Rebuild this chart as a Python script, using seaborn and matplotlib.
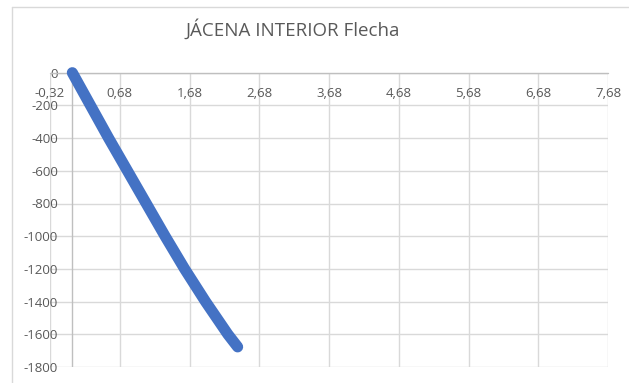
import matplotlib
matplotlib.use("Agg")
import matplotlib.pyplot as plt
import seaborn as sns
import pandas as pd
from matplotlib.lines import Line2D

# Deflection of the interior beam: position along the span vs. deflection
posicion = [0.0, 0.26, 0.52, 0.79, 1.06, 1.33, 1.61, 1.91, 2.23, 2.37]
flecha = [0, -200, -400, -600, -800, -1000, -1200, -1400, -1600, -1677]

x_ticks = [-0.32, 0.68, 1.68, 2.68, 3.68, 4.68, 5.68, 6.68, 7.68]
x_labels = ["-0,32", "0,68", "1,68", "2,68", "3,68", "4,68", "5,68", "6,68", "7,68"]
y_ticks = [0, -200, -400, -600, -800, -1000, -1200, -1400, -1600, -1800]
y_labels = ["0", "-200", "-400", "-600", "-800", "-1000", "-1200", "-1400", "-1600", "-1800"]

titulo = "JÁCENA INTERIOR Flecha"

sns.set_theme(style="white")
plt.rcParams["font.family"] = ["Open Sans", "DejaVu Sans"]

W, H = 629, 383
fig = plt.figure(figsize=(W / 100, H / 100), dpi=100)

# plot area in pixels
left_px, right_px, top_px, bottom_px = 50, 608, 72.7, 367
ax = fig.add_axes([left_px / W, (H - bottom_px) / H,
                   (right_px - left_px) / W, (bottom_px - top_px) / H])

df = pd.DataFrame({"posicion": posicion, "flecha": flecha})
sns.lineplot(data=df, x="posicion", y="flecha", ax=ax, sort=False,
             color="#4472C4", linewidth=8, solid_capstyle="round",
             solid_joinstyle="round", zorder=5, clip_on=False)

ax.set_xlim(-0.32, 7.68)
ax.set_ylim(-1800, 0)
ax.set_xlabel("")
ax.set_ylabel("")

grid_c = "#D9D9D9"
axis_c = "#BFBFBF"
txt_c = "#595959"

for s in ax.spines.values():
    s.set_visible(False)

ax.set_xticks(x_ticks, labels=[""] * len(x_ticks))
ax.set_yticks(y_ticks, labels=y_labels)
ax.grid(True, color=grid_c, linewidth=1.0)
ax.tick_params(axis="both", length=0)
ax.tick_params(axis="y", pad=-5.8, labelsize=9.5, labelcolor=txt_c)
ax.tick_params(axis="x", labelbottom=False)

# vertical axis crosses at x = 0, horizontal axis at y = 0
ax.axvline(0, color=axis_c, linewidth=1.0, zorder=2)
ax.axhline(0, color=axis_c, linewidth=1.0, zorder=2, clip_on=False)

# category labels sit just under the horizontal axis
for t, lbl in zip(x_ticks, x_labels):
    ax.annotate(lbl, (t, 0), xytext=(0, -20.5), textcoords="offset pixels",
                ha="center", va="center", fontsize=9.5, color=txt_c,
                annotation_clip=False)

# chart frame
fig.add_artist(Line2D([12 / W, 12 / W], [0, 1 - 7 / H], color=grid_c,
                      linewidth=1.0, transform=fig.transFigure))
fig.add_artist(Line2D([12 / W, 1], [1 - 7 / H, 1 - 7 / H], color=grid_c,
                      linewidth=1.0, transform=fig.transFigure))

fig.text(293 / W, 1 - 29.5 / H, titulo, ha="center", va="center",
         fontsize=13.5, color=txt_c)

fig.savefig("out.png", dpi=100, facecolor="white")
